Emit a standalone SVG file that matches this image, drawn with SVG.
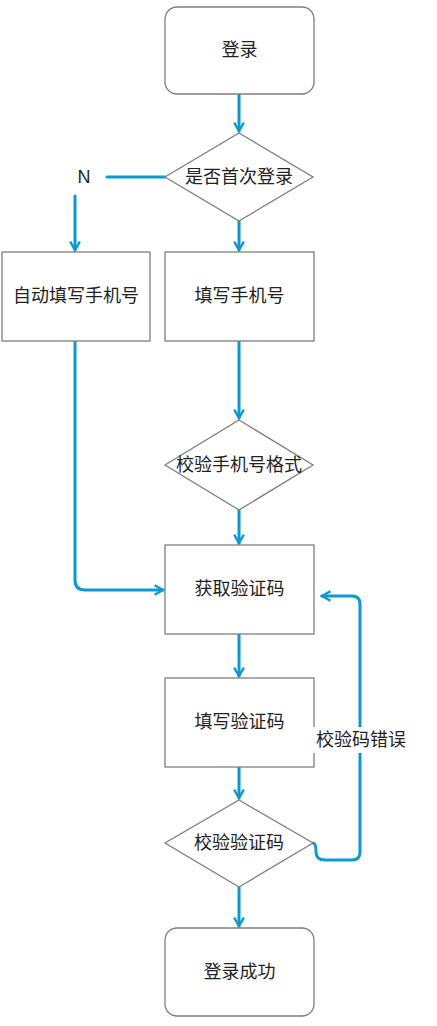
<svg xmlns="http://www.w3.org/2000/svg" width="437" height="1026" viewBox="0 0 437 1026">
<style>
.n{fill:#fff;stroke:#7f7f7f;stroke-width:1.3}
.t{font-family:"Liberation Sans","Noto Sans CJK SC",sans-serif;font-size:18px;fill:#222;text-anchor:middle;dominant-baseline:central}
.e{fill:none;stroke:#0a9ad1;stroke-width:3;stroke-linejoin:round;stroke-linecap:round}
</style>
<defs>
<marker id="a" viewBox="0 0 10 10" refX="8" refY="5" markerWidth="4" markerHeight="4" orient="auto" markerUnits="strokeWidth">
<path d="M1,1 L8,5 L1,9" fill="none" stroke="#0a9ad1" stroke-width="2"/>
</marker>
</defs>
<rect width="437" height="1026" fill="#fff"/>
<g id="connectors">
<path class="e" d="M239,94 V131" marker-end="url(#a)"/>
<path class="e" d="M165,177 H107"/>
<path class="e" d="M75,196 V250" marker-end="url(#a)"/>
<path class="e" d="M239,221 V250" marker-end="url(#a)"/>
<path class="e" d="M239,341 V418" marker-end="url(#a)"/>
<path class="e" d="M239,510 V543" marker-end="url(#a)"/>
<path class="e" d="M75,341 V580 Q75,590 85,590 H163" marker-end="url(#a)"/>
<path class="e" d="M239,634 V676" marker-end="url(#a)"/>
<path class="e" d="M239,767 V798" marker-end="url(#a)"/>
<path class="e" d="M313,843 Q316,843 316,852 Q316,860 325,860 H352 Q360,860 360,852 V604 Q360,596 352,596 H322" marker-end="url(#a)"/>
<path class="e" d="M239,887 V926" marker-end="url(#a)"/>
</g>
<g id="n1"><rect class="n" x="165" y="7" width="149" height="87" rx="12"/><text class="t" x="239.5" y="50">登录</text></g>
<g id="n2"><polygon class="n" points="239,133 313,177 239,221 165,177"/><text class="t" x="239" y="177">是否首次登录</text></g>
<g id="lblN"><text class="t" x="84" y="177">N</text></g>
<g id="n3"><rect class="n" x="2" y="252" width="148" height="89"/><text class="t" x="76" y="296">自动填写手机号</text></g>
<g id="n4"><rect class="n" x="165" y="252" width="149" height="89"/><text class="t" x="239.5" y="296">填写手机号</text></g>
<g id="n5"><polygon class="n" points="239,420 313,465 239,510 165,465"/><text class="t" x="239" y="465">校验手机号格式</text></g>
<g id="n6"><rect class="n" x="165" y="545" width="149" height="89"/><text class="t" x="239.5" y="589">获取验证码</text></g>
<g id="n7"><rect class="n" x="165" y="678" width="149" height="89"/><text class="t" x="239.5" y="722">填写验证码</text></g>
<g id="n8"><polygon class="n" points="239,800 313,843 239,887 165,843"/><text class="t" x="239" y="843">校验验证码</text></g>
<g id="n9"><rect class="n" x="165" y="928" width="149" height="88" rx="12"/><text class="t" x="239.5" y="972">登录成功</text></g>
<g id="lblErr"><rect x="313" y="727" width="97" height="26" fill="#fff"/><text class="t" x="361" y="740">校验码错误</text></g>
</svg>
